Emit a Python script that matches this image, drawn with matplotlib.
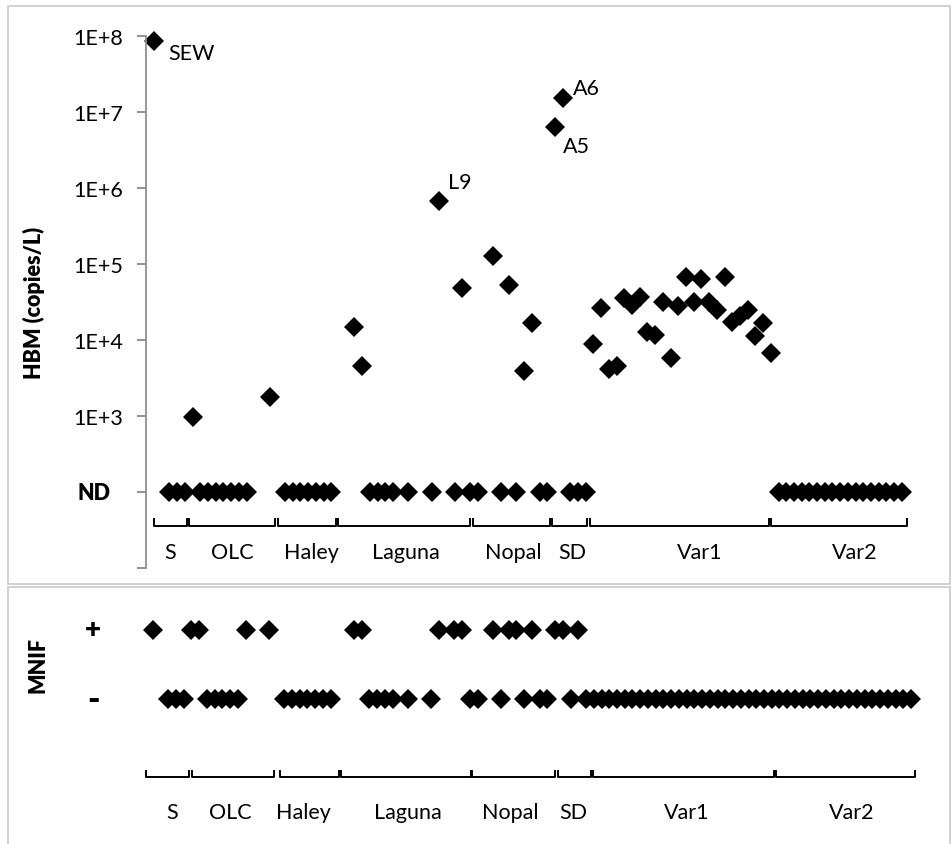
import matplotlib.pyplot as plt
from matplotlib.patches import Rectangle
from matplotlib.transforms import blended_transform_factory

plt.rcParams['font.family'] = ['Lato', 'DejaVu Sans']

W, H = 951, 845

# sample groups along the x axis
groups = ['S', 'OLC', 'Haley', 'Laguna', 'Nopal', 'SD', 'Var1', 'Var2']

# HBM, detected samples: sample position and copies/L
hbm_pos = [0, 5, 15, 26, 27, 37, 40, 44, 46, 48, 49, 52, 53,
           57, 58, 59, 60, 61, 62, 63, 64, 65, 66, 67, 68,
           69, 70, 71, 72, 73, 74, 75, 76, 77, 78, 79, 80]
hbm_val = [8.6e7, 970, 1800, 14700, 4610, 6.8e5, 4.9e4, 1.29e5, 5.3e4, 3890, 1.68e4, 6.25e6, 1.5e7,
           8900, 26200, 4170, 4530, 35400, 28900, 37200, 12900, 11700, 32000, 5820, 28300,
           66800, 31400, 63500, 31400, 24900, 66800, 17400, 20900, 24900, 11200, 16800, 6760]

# HBM not detected (plotted on the ND line)
nd_pos = [2, 3, 4, 6, 7, 8, 9, 10, 11, 12,
          17, 18, 19, 20, 21, 22, 23,
          28, 29, 30, 31, 33, 36, 39, 41,
          42, 45, 47, 50, 51,
          54, 55, 56,
          81, 82, 83, 84, 85, 86, 87, 88, 89, 90, 91, 92, 93, 94, 95, 96, 97]
ND_LEVEL = 100

# sample labels for notable HBM results
point_labels = {0: 'SEW', 37: 'L9', 52: 'A5', 53: 'A6'}

# MNIF results
mnif_plus = [0, 5, 6, 12, 15, 26, 27, 37, 39, 40, 44, 46, 47, 49, 52, 53, 55]
mnif_minus = [2, 3, 4, 7, 8, 9, 10, 11,
              17, 18, 19, 20, 21, 22, 23,
              28, 29, 30, 31, 33, 36, 41,
              42, 45, 48, 50, 51,
              54, 56,
              57, 58, 59, 60, 61, 62, 63, 64, 65, 66, 67, 68,
              69, 70, 71, 72, 73, 74, 75, 76, 77, 78, 79, 80,
              81, 82, 83, 84, 85, 86, 87, 88, 89, 90, 91, 92, 93, 94, 95, 96, 97, 98]

fig = plt.figure(figsize=(W / 100, H / 100), dpi=100)


def fig_box(left, top, right, bottom):
    return [left / W, 1 - bottom / H, (right - left) / W, (bottom - top) / H]


# chart frames
for top, bottom in [(7, 585), (588, 852)]:
    fig.add_artist(Rectangle((8 / W, 1 - bottom / H), (950 - 8) / W, (bottom - top) / H,
                             transform=fig.transFigure, fill=False, edgecolor='#c9c9c9', lw=1.2))

mk = dict(marker='D', ms=9.8, mew=0, color='black', ls='none', clip_on=False)
FS = 15.5

# ---- top panel: HBM ----
ax = fig.add_axes(fig_box(146, 36.7, 930, 569.3))
ax.set_yscale('log')
ax.set_ylim(10, 1e8)
ax.set_xlim(-(154 - 146) / 7.71, (930 - 154) / 7.71)
ax.plot(hbm_pos, hbm_val, **mk)
ax.plot(nd_pos, [ND_LEVEL] * len(nd_pos), **mk)

for pos, txt in point_labels.items():
    v = hbm_val[hbm_pos.index(pos)]
    off = {'SEW': (10, -8.6), 'L9': (6.5, 13.5), 'A5': (5.8, -13.2), 'A6': (7.7, 7.6)}[txt]
    ax.annotate(txt, xy=(pos, v), xytext=off, textcoords='offset points',
                ha='left', va='center', fontsize=FS)

for s in ['top', 'right', 'bottom']:
    ax.spines[s].set_visible(False)
ax.spines['left'].set_color('#8c8c8c')
ax.spines['left'].set_linewidth(1.3)
ax.set_xticks([])
ax.set_yticks([10 ** k for k in range(1, 9)])
ax.minorticks_off()
ax.set_yticklabels(['', ''] + ['1E+%d' % k for k in range(3, 9)], fontsize=FS)
ax.tick_params(axis='y', length=6.5, width=1.3, color='#8c8c8c', pad=10)
ax.text((94.3 - 146) / 784, ND_LEVEL, 'ND', transform=ax.get_yaxis_transform(),
        ha='center', va='center', fontsize=FS, fontweight='heavy')
ax.text((34 - 146) / 784, 0.5, 'HBM (copies/L)', transform=ax.transAxes, rotation=90,
        ha='center', va='center', fontsize=FS, fontweight='heavy')

top_spans = [(-0.05, 4.3), (4.6, 15.75), (16.05, 23.55), (23.85, 41.05),
             (41.35, 51.35), (51.65, 56.1), (56.5, 79.75), (80.05, 97.7)]
top_label_x = [2.07, 10.2, 20.4, 32.7, 46.6, 54.2, 70.8, 90.9]
tt = blended_transform_factory(ax.transData, ax.transAxes)
for (x0, x1), lx, name in zip(top_spans, top_label_x, groups):
    ax.plot([x0, x0, x1, x1], [0.0926, 0.080, 0.080, 0.0926], color='black', lw=1.4,
            transform=tt, clip_on=False)
    ax.text(lx, 0.0312, name, transform=tt, ha='center', va='center', fontsize=FS)

# ---- bottom panel: MNIF ----
bx = fig.add_axes(fig_box(146, 600, 930, 840))
bx.set_xlim(-(152.7 - 146) / 7.738, (930 - 152.7) / 7.738)
bx.set_ylim(-(840 - 700) / 69.5, 1 + (630.5 - 600) / 69.5)
bx.plot(mnif_plus, [1] * len(mnif_plus), **mk)
bx.plot(mnif_minus, [0] * len(mnif_minus), **mk)
bx.axis('off')
bx.text((93.3 - 146) / 784, 1, '+', transform=bx.get_yaxis_transform(),
        ha='center', va='center', fontsize=20, fontweight='heavy')
bx.text((93.3 - 146) / 784, 0, '-', transform=bx.get_yaxis_transform(),
        ha='center', va='center', fontsize=24, fontweight='heavy')
bx.text((37.5 - 146) / 784, 0.5, 'MNIF', transform=bx.get_yaxis_transform(), rotation=90,
        ha='center', va='center', fontsize=FS, fontweight='heavy')

bot_spans = [(-0.87, 4.73), (5.05, 15.7), (16.45, 24.1), (24.3, 41.1),
             (41.3, 52.0), (52.4, 56.7), (56.9, 80.3), (80.5, 98.5)]
bot_label_x = [2.53, 9.99, 19.5, 33.0, 46.2, 54.4, 69.0, 90.3]
for (x0, x1), lx, name in zip(bot_spans, bot_label_x, groups):
    bx.plot([x0, x0, x1, x1], [-1.036, -1.122, -1.122, -1.036], color='black', lw=1.4,
            clip_on=False)
    bx.text(lx, -1.626, name, ha='center', va='center', fontsize=FS)

fig.savefig('out.png', dpi=100)
